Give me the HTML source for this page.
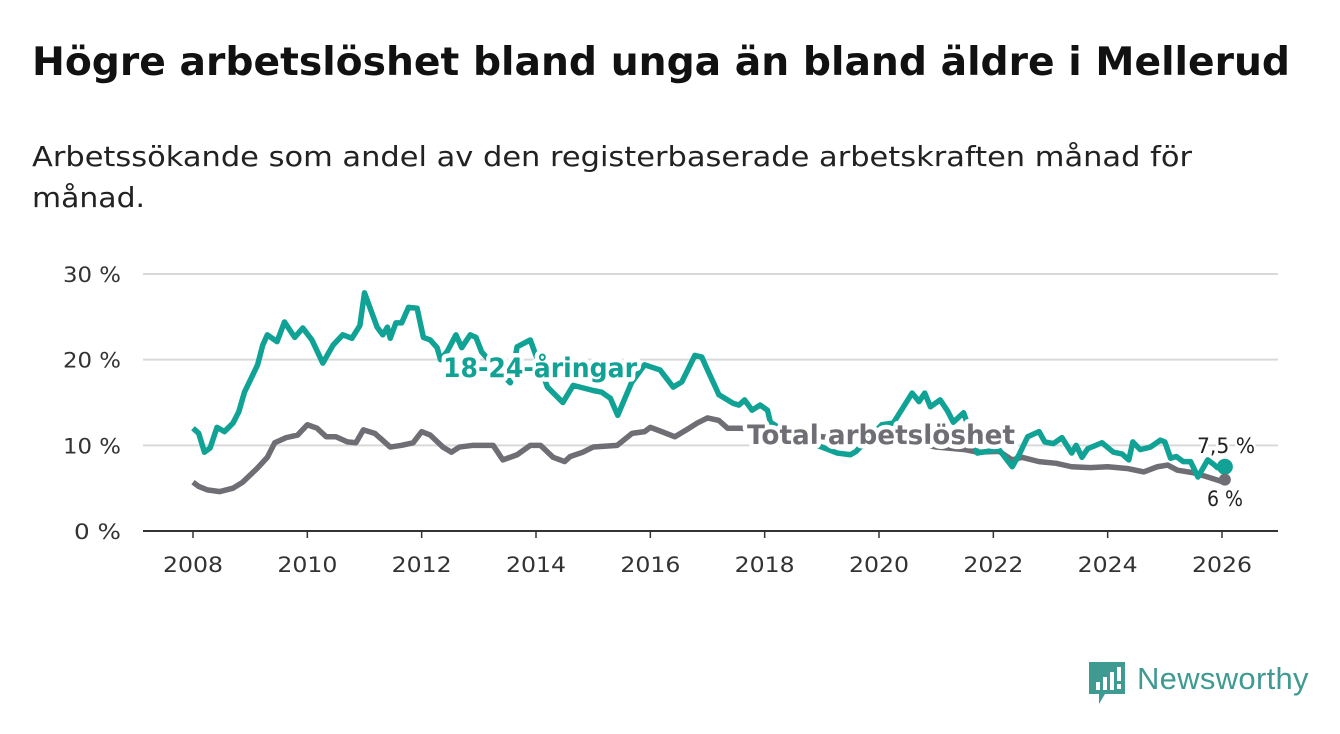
<!DOCTYPE html>
<html><head><meta charset="utf-8"><style>
body{margin:0;background:#fff;width:1340px;height:734px;overflow:hidden;font-family:"DejaVu Sans","Liberation Sans",sans-serif}
svg{position:absolute;left:0;top:0}
</style></head><body>
<svg id="c" width="1340" height="734"></svg>
<script>
const yTicks=[0,10,20,30];
const yTickLabels=["0 %","10 %","20 %","30 %"];
const xTicks=[2008,2010,2012,2014,2016,2018,2020,2022,2024,2026];
const youthDates=[2008.0,2008.1,2008.2,2008.3,2008.42,2008.55,2008.7,2008.8,2008.9,2009.03,2009.13,2009.22,2009.3,2009.47,2009.6,2009.78,2009.92,2010.08,2010.27,2010.45,2010.62,2010.78,2010.92,2011.0,2011.22,2011.32,2011.4,2011.45,2011.55,2011.65,2011.77,2011.92,2012.03,2012.15,2012.27,2012.33,2012.45,2012.6,2012.7,2012.85,2012.95,2013.05,2013.3,2013.55,2013.67,2013.9,2014.2,2014.47,2014.65,2015.0,2015.15,2015.3,2015.43,2015.67,2015.9,2016.17,2016.4,2016.55,2016.78,2016.9,2016.98,2017.2,2017.45,2017.55,2017.65,2017.78,2017.92,2018.05,2018.1,2018.5,2019.0,2019.27,2019.5,2019.6,2020.05,2020.25,2020.58,2020.7,2020.8,2020.9,2021.07,2021.2,2021.3,2021.48,2021.72,2021.9,2022.1,2022.33,2022.45,2022.6,2022.8,2022.9,2023.05,2023.2,2023.37,2023.45,2023.55,2023.65,2023.9,2024.1,2024.25,2024.37,2024.44,2024.57,2024.75,2024.92,2025.0,2025.1,2025.2,2025.32,2025.45,2025.58,2025.75,2025.85,2025.92,2026.05];
const youthValues=[12.0,11.4,9.2,9.7,12.1,11.6,12.6,13.9,16.2,18.0,19.4,21.7,22.9,22.1,24.4,22.6,23.7,22.3,19.6,21.7,22.9,22.5,24.0,27.8,23.8,22.9,23.8,22.5,24.3,24.3,26.1,26.0,22.6,22.3,21.4,20.0,21.0,22.9,21.4,22.9,22.6,20.9,19.0,17.3,21.5,22.3,16.8,15.0,17.0,16.4,16.2,15.5,13.5,17.3,19.4,18.8,16.8,17.4,20.5,20.3,19.1,15.9,14.9,14.7,15.3,14.1,14.7,14.1,12.7,11.0,9.8,9.1,8.9,9.3,12.4,12.6,16.1,15.1,16.1,14.5,15.3,14.0,12.7,13.8,9.1,9.3,9.5,7.5,8.9,11.0,11.6,10.4,10.2,10.9,9.1,10.0,8.6,9.6,10.3,9.2,9.0,8.3,10.4,9.5,9.8,10.6,10.4,8.5,8.7,8.1,8.1,6.3,8.3,7.8,7.4,7.5];
const totalDates=[2008.0,2008.1,2008.25,2008.47,2008.7,2008.87,2009.12,2009.3,2009.43,2009.63,2009.83,2010.0,2010.17,2010.33,2010.5,2010.7,2010.85,2010.98,2011.18,2011.45,2011.65,2011.85,2012.0,2012.15,2012.37,2012.52,2012.66,2012.9,2013.25,2013.42,2013.67,2013.9,2014.08,2014.3,2014.5,2014.6,2014.82,2015.0,2015.42,2015.68,2015.9,2016.0,2016.2,2016.43,2016.63,2016.82,2017.0,2017.2,2017.35,2017.57,2018.0,2018.5,2019.0,2019.5,2020.0,2020.5,2021.0,2021.5,2021.72,2022.1,2022.33,2022.5,2022.8,2023.1,2023.37,2023.7,2024.0,2024.34,2024.63,2024.87,2025.05,2025.22,2025.5,2025.75,2026.03,2026.05];
const totalValues=[5.7,5.2,4.8,4.6,5.0,5.7,7.3,8.6,10.3,10.9,11.2,12.4,12.0,11.0,11.0,10.4,10.3,11.8,11.4,9.8,10.0,10.3,11.6,11.2,9.8,9.2,9.8,10.0,10.0,8.3,8.9,10.0,10.0,8.6,8.1,8.7,9.2,9.8,10.0,11.4,11.6,12.1,11.6,11.0,11.8,12.6,13.2,12.9,12.0,12.0,11.8,11.5,11.0,10.7,11.5,10.5,9.8,9.5,9.2,9.3,8.3,8.6,8.1,7.9,7.5,7.4,7.5,7.3,6.9,7.5,7.7,7.1,6.8,6.3,5.7,6.0];
const NS='http://www.w3.org/2000/svg';
const svg=document.getElementById('c');
const X=v=>193+(v-2008)*(1222-193)/18;
const Y=v=>531-v*(531-274)/30;
function mk(t,a,p){const e=document.createElementNS(NS,t);for(const k in a)e.setAttribute(k,a[k]);(p||svg).appendChild(e);return e;}
function txt(x,y,s,a){const t=mk('text',Object.assign({x:x,y:y,lengthAdjust:'spacingAndGlyphs'},a));t.textContent=s;return t;}
let t;
t=txt(32,75,'Högre arbetslöshet bland unga än bland äldre i Mellerud',{'font-size':39,'font-weight':'bold',fill:'#111',textLength:1258});


t=txt(32,166,'Arbetssökande som andel av den registerbaserade arbetskraften månad för',{'font-size':28,fill:'#222',textLength:1160});


t=txt(32,207,'månad.',{'font-size':28,fill:'#222',textLength:113});


yTicks.forEach((v,i)=>{
  const l=mk('line',{x1:143,x2:1278,y1:Y(v),y2:Y(v),stroke:v===0?'#333':'#d9d9d9','stroke-width':2});
  
  
  const w=yTickLabels[i].length===3?47:58;
  const tx=txt(121-w,Y(v)+8,yTickLabels[i],{'font-size':21,fill:'#333',textLength:w});
  
  
});
xTicks.forEach(v=>{
  const l=mk('line',{x1:X(v),x2:X(v),y1:531,y2:538,stroke:'#333','stroke-width':1.5});
  
  
  const tx=txt(X(v)-30,572,v,{'font-size':21,fill:'#333',textLength:60});
  
  
});
function line(d,v,c,name){
  const p=mk('polyline',{points:d.map((x,i)=>X(x)+','+Y(v[i])).join(' '),fill:'none',stroke:c,'stroke-width':5.5,'stroke-linejoin':'round'});
  
  
}
line(totalDates,totalValues,'#6f6e74','total-line');
line(youthDates,youthValues,'#10a295','youth-line');
const d1=mk('circle',{cx:X(youthDates[youthDates.length-1]),cy:Y(youthValues[youthValues.length-1]),r:8,fill:'#10a295'});


const d2=mk('circle',{cx:X(totalDates[totalDates.length-1]),cy:Y(totalValues[totalValues.length-1]),r:6,fill:'#6f6e74'});


function lab(x,y,s,c,size,w,len,name,bold){
  const e=txt(x,y,s,{'font-size':size,'font-weight':bold?'bold':'normal',fill:c,stroke:'#fff','stroke-width':w,'paint-order':'stroke','stroke-linejoin':'round',textLength:len});
  
  
}
lab(443,377,'18-24-åringar','#10a295',27,9,194,'youth-series-label',true);
lab(747,444,'Total arbetslöshet','#6f6e74',27,9,268,'total-series-label',true);
lab(1197,453,'7,5 %','#222',21,5,58,'youth-end-value',false);
lab(1207,506,'6 %','#222',21,5,36,'total-end-value',false);
</script>
<div style="position:absolute;left:1089px;top:662px;height:44px;display:flex;align-items:flex-start">
<svg width="36" height="42" style="position:static"><path d="M0 0H36V32H16L10 42V32H0Z" fill="#3f9a92"/><rect x="7" y="20" width="4" height="8" fill="#fff"/><rect x="14" y="15" width="4" height="13" fill="#fff"/><rect x="21" y="10" width="4" height="18" fill="#fff"/><rect x="28" y="5" width="4" height="14" fill="#fff"/><rect x="28" y="22" width="4" height="5" fill="#fff"/></svg>
<span style="font-family:'Liberation Sans',sans-serif;font-size:31px;color:#3f9a92;margin-left:12px;line-height:34px;letter-spacing:0.3px">Newsworthy</span></div>
</body></html>
